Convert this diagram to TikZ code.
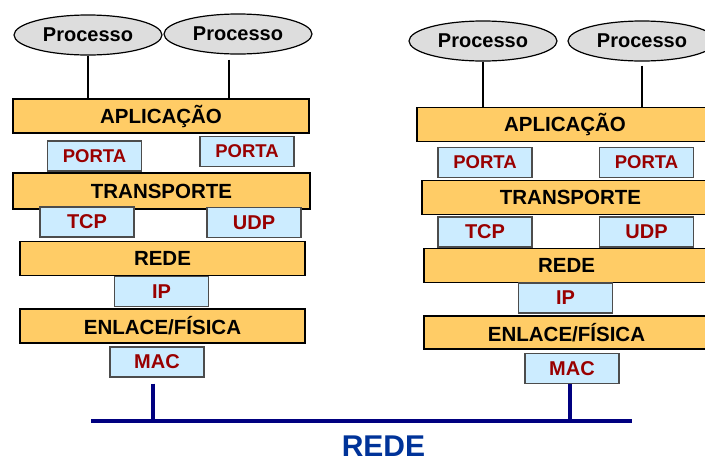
\documentclass[tikz,border=0pt]{standalone}
\usepackage{fontspec}
\setmainfont{Liberation Sans}
\usepackage{xcolor}
\usetikzlibrary{arrows.meta, shapes.geometric, positioning}

\definecolor{barfill}{RGB}{255,204,102}
\definecolor{boxfill}{RGB}{204,236,255}
\definecolor{boxtext}{RGB}{153,0,0}
\definecolor{procfill}{RGB}{221,221,221}
\definecolor{busblue}{RGB}{0,0,128}
\definecolor{redeblue}{RGB}{0,51,153}

\begin{document}
\begin{tikzpicture}[x=1pt, y=-1pt, thick,
  camada/.style={draw, line width=1.6pt, fill=barfill, minimum height=34pt, inner sep=0pt, font=\fontsize{20.5}{22}\selectfont\bfseries},
  protocolo/.style={draw=black!70, line width=1.2pt, fill=boxfill, minimum width=94pt, minimum height=30pt, inner sep=0pt, text=boxtext, font=\fontsize{20}{22}\selectfont\bfseries},
  processo/.style={draw, ellipse, line width=1.2pt, fill=procfill, minimum width=148pt, minimum height=40pt, inner sep=0pt, font=\fontsize{20}{22}\selectfont\bfseries},
  enlace/.style={line width=4pt, draw=busblue}]
\path[use as bounding box, clip] (0,0) rectangle (705,464);

% Left host
\node[processo] (pl1) at (88,35) {Processo};
\node[processo] (pl2) at (238,34) {Processo};
\node[camada, minimum width=296pt] (apl) at (161,116) {APLICAÇÃO};
\node[protocolo, font=\fontsize{18.5}{20}\selectfont\bfseries] (portal1) at (94.5,156) {PORTA};
\node[protocolo, font=\fontsize{18.5}{20}\selectfont\bfseries] (portal2) at (247,151.5) {PORTA};
\node[camada, minimum width=297pt, minimum height=36pt] (tral) at (161.5,191) {TRANSPORTE};
\node[protocolo] (tcpl) at (87,222) {TCP};
\node[protocolo] (udpl) at (254,222.5) {UDP};
\node[camada, minimum width=285pt] (redel) at (162.5,258.5) {REDE};
\node[protocolo] (ipl) at (161.5,291.5) {IP};
\node[camada, minimum width=285pt] (enll) at (162.5,326) {ENLACE/FÍSICA};
\node[protocolo] (macl) at (157,362) {MAC};

% Right host
\node[processo] (pr1) at (483,41) {Processo};
\node[processo] (pr2) at (642,41) {Processo};
\node[camada, minimum width=296pt] (apr) at (565,124.5) {APLICAÇÃO};
\node[protocolo, font=\fontsize{18.5}{20}\selectfont\bfseries] (portar1) at (485,162.5) {PORTA};
\node[protocolo, font=\fontsize{18.5}{20}\selectfont\bfseries] (portar2) at (646.5,162.5) {PORTA};
\node[camada, minimum width=297pt] (trar) at (570.5,197.5) {TRANSPORTE};
\node[protocolo] (tcpr) at (485,232) {TCP};
\node[protocolo] (udpr) at (646.5,232) {UDP};
\node[camada, minimum width=285pt] (reder) at (566.5,265.5) {REDE};
\node[protocolo] (ipr) at (565.5,298) {IP};
\node[camada, minimum width=285pt, minimum height=33pt] (enlr) at (566.5,332.5) {ENLACE/FÍSICA};
\node[protocolo] (macr) at (572,368.5) {MAC};

% Process links
\draw[line width=1.2pt] (pl1) -- (apl.north -| pl1);
\draw[line width=1.2pt] ([xshift=-9pt, yshift=-5pt]pl2.south) -- ([xshift=-9pt]apl.north -| pl2.south);
\draw[line width=1.2pt] (pr1) -- (apr.north -| pr1);
\draw[line width=1.2pt] ([yshift=-4pt]pr2.south) -- (apr.north -| pr2.south);

% Network
\coordinate (busw) at (91,421);
\coordinate (buse) at (632,421);
\draw[enlace] (busw) -- (buse);
\draw[enlace] ([xshift=-4pt, yshift=-6pt]macl.south) -- ([xshift=-4pt]macl.south |- busw);
\draw[enlace] ([xshift=-2pt]macr.south) -- ([xshift=-2pt]macr.south |- busw);
\node[inner sep=0pt, font=\fontsize{30}{32}\selectfont\bfseries, text=redeblue] (rotulo) at (383.5,446) {REDE};
\end{tikzpicture}
\end{document}
